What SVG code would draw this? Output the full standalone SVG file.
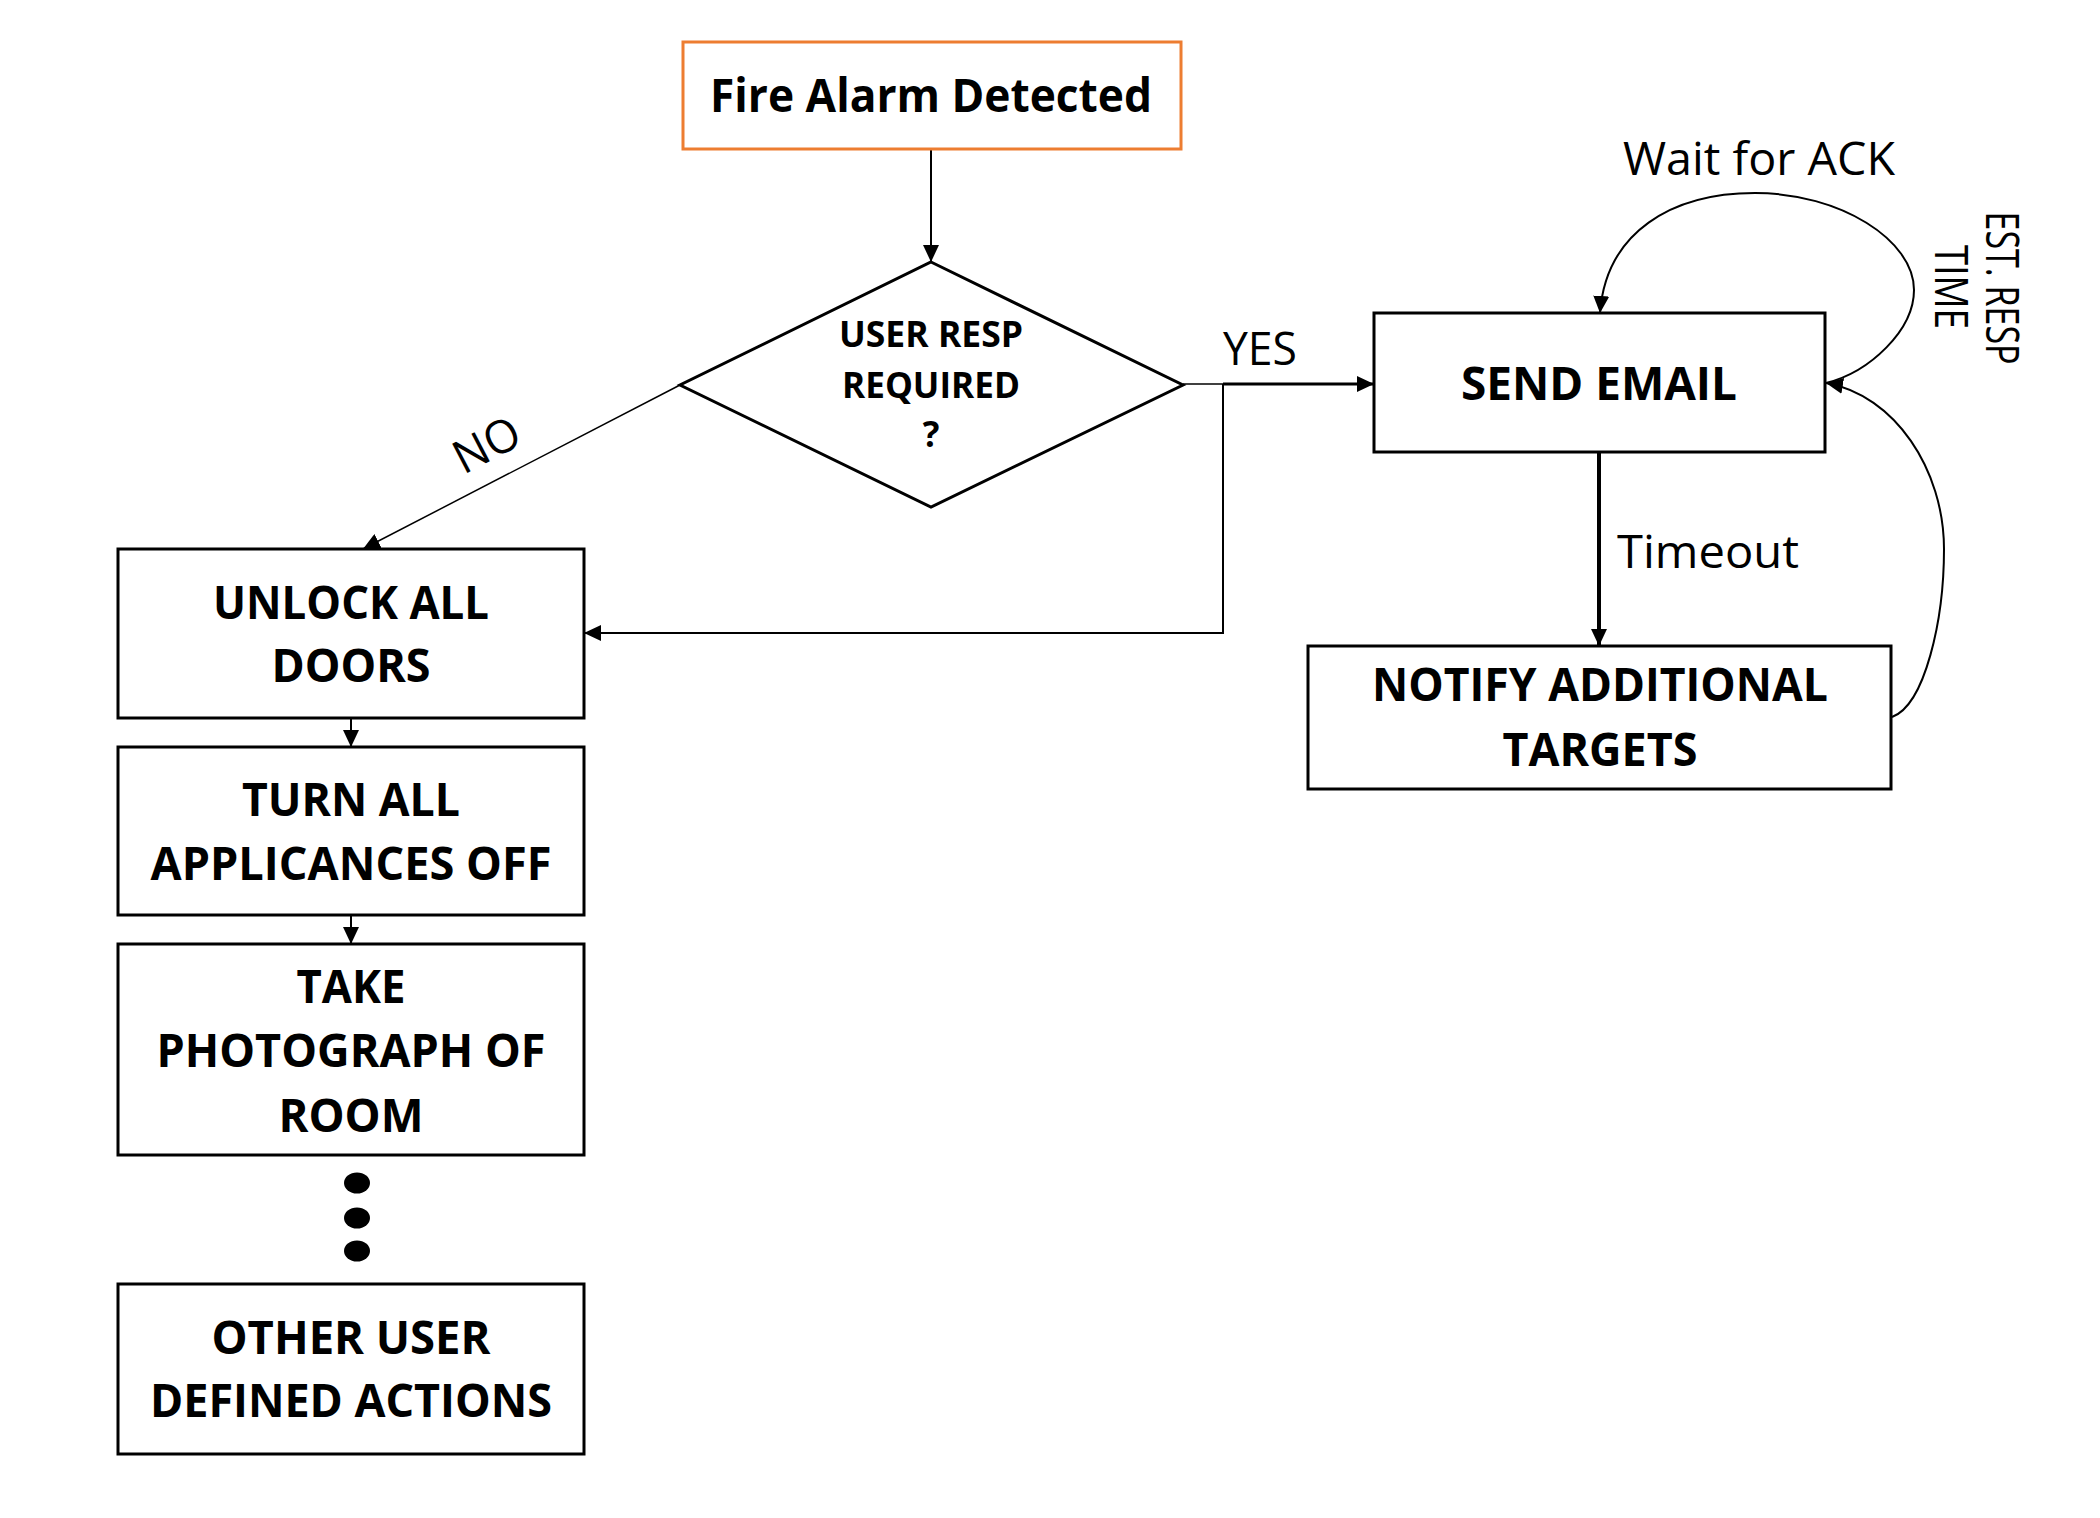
<svg xmlns="http://www.w3.org/2000/svg" width="2100" height="1518" viewBox="0 0 2100 1518">
<style>
.box{fill:#fff;stroke:#000;stroke-width:3}
.fire{fill:#fff;stroke:#ED7D31;stroke-width:3}
.lbl{font-family:"Open Sans","Liberation Sans",sans-serif;font-weight:bold;font-size:47px;fill:#000;text-anchor:middle}
.dl{font-family:"Open Sans","Liberation Sans",sans-serif;font-weight:bold;font-size:35px;fill:#000;text-anchor:middle}
.reg{font-family:"Open Sans","Liberation Sans",sans-serif;font-size:46px;fill:#000}
.ln{fill:none;stroke:#000}
</style>
<defs>
<marker id="ah" viewBox="0 0 17 16" refX="17" refY="8" markerWidth="17" markerHeight="16" markerUnits="userSpaceOnUse" orient="auto">
<path d="M0,0 L17,8 L0,16 z" fill="#000"/>
</marker>
</defs>
<rect width="2100" height="1518" fill="#fff"/>
<g id="connectors">
<path class="ln" stroke-width="2" d="M931,149 V262" marker-end="url(#ah)"/>
<path class="ln" stroke-width="1.5" d="M680,385 L363,549" marker-end="url(#ah)"/>
<path class="ln" stroke-width="1.5" d="M1183,384 H1223"/>
<path class="ln" stroke-width="3" d="M1223,384 H1374" marker-end="url(#ah)"/>
<path class="ln" stroke-width="2" d="M1223,384 V633 H584" marker-end="url(#ah)"/>
<path class="ln" stroke-width="2" d="M351,718 V747" marker-end="url(#ah)"/>
<path class="ln" stroke-width="2" d="M351,915 V944" marker-end="url(#ah)"/>
<path class="ln" stroke-width="4" d="M1599,452 V646" marker-end="url(#ah)"/>
<path class="ln" stroke-width="2" d="M1826,383 C1870,372 1914,330 1914,290 C1914,240 1840,193 1755,193 C1672,193 1606,232 1600,313" marker-end="url(#ah)"/>
<path class="ln" stroke-width="2" d="M1892,717 C1925,705 1944,620 1944,549 C1944,470 1895,395 1826,383" marker-end="url(#ah)"/>
</g>
<g id="node-fire">
<rect class="fire" x="683" y="42" width="498" height="107"/>
<text class="lbl" x="931" y="112" textLength="442" lengthAdjust="spacingAndGlyphs">Fire Alarm Detected</text>
</g>
<g id="node-decision">
<polygon points="931,262 1183,385 931,507 680,385" fill="#fff" stroke="#000" stroke-width="3"/>
<text class="dl" x="931" y="347" textLength="184" lengthAdjust="spacingAndGlyphs">USER RESP</text>
<text class="dl" x="931" y="398" textLength="178" lengthAdjust="spacingAndGlyphs">REQUIRED</text>
<text class="dl" x="931" y="447">?</text>
</g>
<g id="node-send">
<rect class="box" x="1374" y="313" width="451" height="139"/>
<text class="lbl" x="1599" y="400" textLength="276" lengthAdjust="spacingAndGlyphs">SEND EMAIL</text>
</g>
<g id="node-notify">
<rect class="box" x="1308" y="646" width="583" height="143"/>
<text class="lbl" x="1600" y="701" textLength="456" lengthAdjust="spacingAndGlyphs">NOTIFY ADDITIONAL</text>
<text class="lbl" x="1600" y="766" textLength="195" lengthAdjust="spacingAndGlyphs">TARGETS</text>
</g>
<g id="node-unlock">
<rect class="box" x="118" y="549" width="466" height="169"/>
<text class="lbl" x="351" y="619" textLength="276" lengthAdjust="spacingAndGlyphs">UNLOCK ALL</text>
<text class="lbl" x="351" y="682" textLength="159" lengthAdjust="spacingAndGlyphs">DOORS</text>
</g>
<g id="node-turn">
<rect class="box" x="118" y="747" width="466" height="168"/>
<text class="lbl" x="351" y="816" textLength="218" lengthAdjust="spacingAndGlyphs">TURN ALL</text>
<text class="lbl" x="351" y="880" textLength="401" lengthAdjust="spacingAndGlyphs">APPLICANCES OFF</text>
</g>
<g id="node-photo">
<rect class="box" x="118" y="944" width="466" height="211"/>
<text class="lbl" x="351" y="1003" textLength="109" lengthAdjust="spacingAndGlyphs">TAKE</text>
<text class="lbl" x="351" y="1067" textLength="389" lengthAdjust="spacingAndGlyphs">PHOTOGRAPH OF</text>
<text class="lbl" x="351" y="1132" textLength="145" lengthAdjust="spacingAndGlyphs">ROOM</text>
</g>
<g id="ellipsis">
<ellipse cx="357" cy="1183" rx="13" ry="10.5" fill="#000"/>
<ellipse cx="357" cy="1218" rx="13" ry="10.5" fill="#000"/>
<ellipse cx="357" cy="1251" rx="13" ry="10.5" fill="#000"/>
</g>
<g id="node-other">
<rect class="box" x="118" y="1284" width="466" height="170"/>
<text class="lbl" x="351" y="1354" textLength="279" lengthAdjust="spacingAndGlyphs">OTHER USER</text>
<text class="lbl" x="351" y="1417" textLength="402" lengthAdjust="spacingAndGlyphs">DEFINED ACTIONS</text>
</g>
<g id="labels">
<text class="reg" x="1223" y="365" textLength="74" lengthAdjust="spacingAndGlyphs">YES</text>
<text class="reg" transform="translate(494,459) rotate(-27.5)" x="0" y="0" text-anchor="middle" font-size="45" textLength="69" lengthAdjust="spacingAndGlyphs">NO</text>
<text class="reg" x="1617" y="568" textLength="182" lengthAdjust="spacingAndGlyphs">Timeout</text>
<text class="reg" x="1623" y="175" textLength="272" lengthAdjust="spacingAndGlyphs">Wait for ACK</text>
<text class="reg" transform="translate(1986,288) rotate(90)" x="0" y="0" text-anchor="middle" font-size="38" textLength="153" lengthAdjust="spacingAndGlyphs">EST. RESP</text>
<text class="reg" transform="translate(1935,287) rotate(90)" x="0" y="0" text-anchor="middle" font-size="38" textLength="84" lengthAdjust="spacingAndGlyphs">TIME</text>
</g>
</svg>
